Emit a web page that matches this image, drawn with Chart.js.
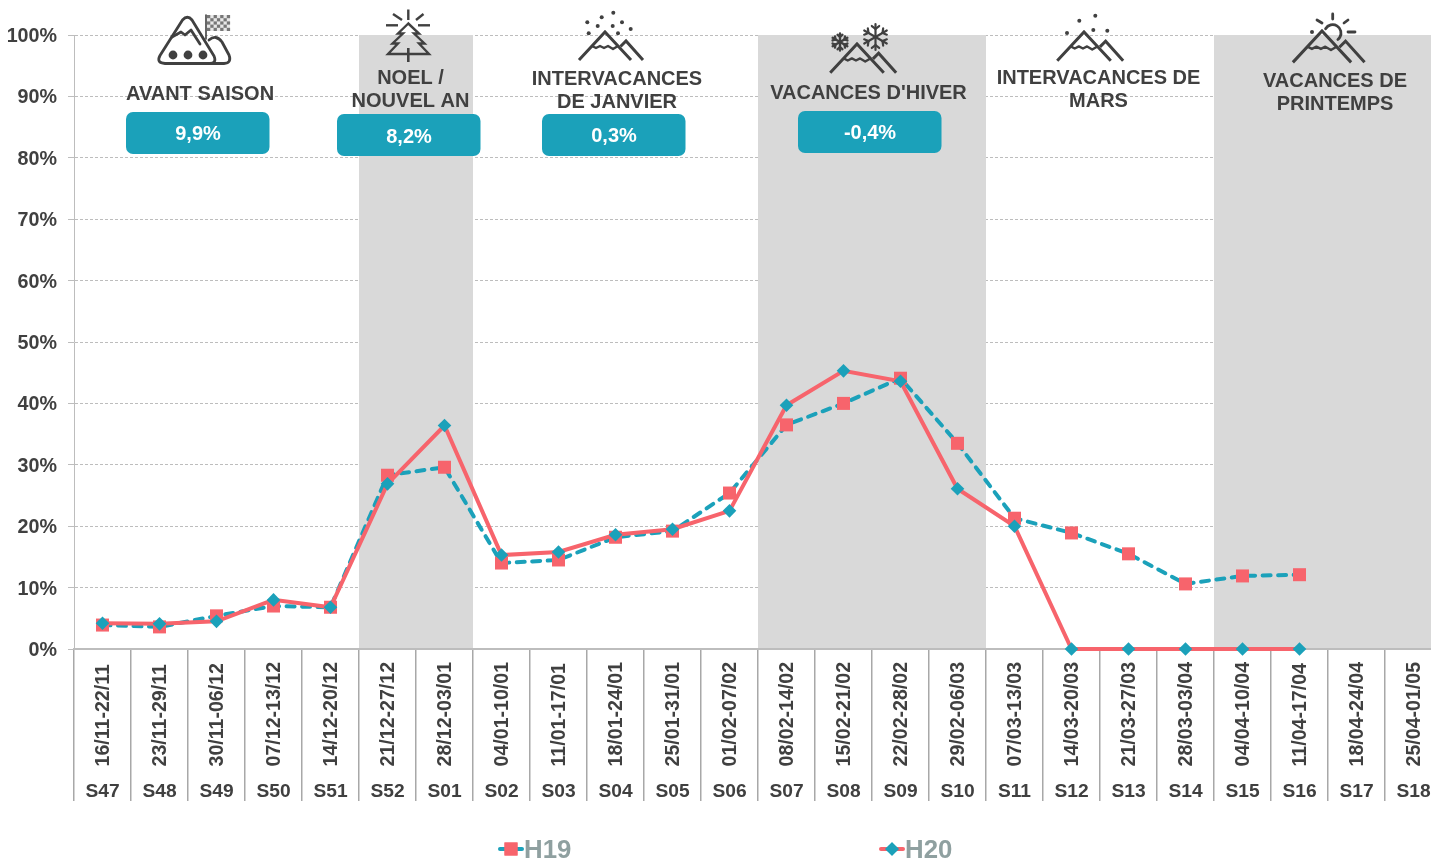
<!DOCTYPE html>
<html lang="fr">
<head>
<meta charset="utf-8">
<title>H19 / H20</title>
<script src="https://cdn.jsdelivr.net/npm/chart.js@4"></script>
<style>
html,body{margin:0;padding:0;background:#fff;overflow:hidden;width:1431px;height:861px}
#wrap{width:1442px;height:861px;position:relative}
canvas{display:block}
</style>
</head>
<body>
<div id="wrap"><canvas id="c" width="1442" height="861"></canvas></div>
<script>
const dateLabels = ["16/11-22/11","23/11-29/11","30/11-06/12","07/12-13/12","14/12-20/12","21/12-27/12","28/12-03/01","04/01-10/01","11/01-17/01","18/01-24/01","25/01-31/01","01/02-07/02","08/02-14/02","15/02-21/02","22/02-28/02","29/02-06/03","07/03-13/03","14/03-20/03","21/03-27/03","28/03-03/04","04/04-10/04","11/04-17/04","18/04-24/04","25/04-01/05"];
const weekLabels = ["S47","S48","S49","S50","S51","S52","S01","S02","S03","S04","S05","S06","S07","S08","S09","S10","S11","S12","S13","S14","S15","S16","S17","S18"];
const h19Values = [3.9,3.6,5.4,7.0,6.8,28.3,29.6,14.0,14.5,18.2,19.2,25.4,36.5,40.0,44.1,33.5,21.3,18.9,15.5,10.6,11.9,12.1,null,null];
const h20Values = [4.2,4.1,4.5,8.0,6.8,26.9,36.4,15.3,15.8,18.6,19.5,22.5,39.7,45.3,43.6,26.1,20.0,0,0,0,0,0,null,null];
const holidayBands = [["S52","S01"],["S07","S10"],["S15","S18"]];
const periodTitles = [["AVANT SAISON"],["NOEL /","NOUVEL AN"],["INTERVACANCES","DE JANVIER"],["VACANCES D'HIVER"],["INTERVACANCES DE","MARS"],["VACANCES DE","PRINTEMPS"]];
const periodBadges = ["9,9%","8,2%","0,3%","-0,4%",null,null];

const RED = "#F7646C", TEAL = "#1BA1BA", INK = "#404040", GRID = "#bdbdbd", FONT = '"Liberation Sans", Arial, sans-serif';

const titleLayout = [
  {x:200,  ys:[94]},
  {x:410.5,ys:[78,101]},
  {x:617,  ys:[79,102]},
  {x:868.5,ys:[93]},
  {x:1098.5,ys:[78,101]},
  {x:1335, ys:[81,104]}
];
const badgeLayout = [
  {x:126,y:112,tx:198,ty:134.5},
  {x:337,y:114,tx:409,ty:137},
  {x:542,y:114,tx:614,ty:136.5},
  {x:798,y:111,tx:870,ty:133.5}
];

function line(ctx, pts){ ctx.beginPath(); pts.forEach((p,i)=> i? ctx.lineTo(p[0],p[1]) : ctx.moveTo(p[0],p[1])); ctx.stroke(); }
function dots(ctx, pts, r){ pts.forEach(p=>{ctx.beginPath();ctx.arc(p[0],p[1],r,0,Math.PI*2);ctx.fill();}); }
function mountain(ctx, ax, ay, s){
  const P = (x,y)=>[ax+x*s, ay+y*s];
  ctx.lineWidth = 3; ctx.lineJoin='miter'; ctx.lineCap='butt';
  line(ctx,[P(-26,28),P(0,0),P(26,28)]);
  line(ctx,[P(15.5,14.5),P(21,9),P(38,28)]);
  ctx.lineWidth = 2.4; ctx.lineJoin='round';
  line(ctx,[P(-13,14),P(-9,16),P(-5,14),P(-1,16),P(3,14),P(8,17),P(13,14)]);
}
function flake(ctx, cx, cy, r, lw){
  ctx.lineWidth = lw; ctx.lineCap='round';
  for(let k=0;k<6;k++){
    const a = -Math.PI/2 + k*Math.PI/3, ca=Math.cos(a), sa=Math.sin(a);
    line(ctx,[[cx,cy],[cx+r*ca,cy+r*sa]]);
    const bx=cx+r*.62*ca, by=cy+r*.62*sa;
    [-0.75,0.75].forEach(d=>{ line(ctx,[[bx,by],[bx+r*.36*Math.cos(a+d*1.2),by+r*.36*Math.sin(a+d*1.2)]]); });
  }
}
function drawIcons(ctx){
  ctx.save();
  ctx.strokeStyle = INK; ctx.fillStyle = INK;
  // avant saison
  ctx.lineWidth = 2.8; ctx.lineJoin='round'; ctx.lineCap='round';
  ctx.beginPath();
  ctx.moveTo(165,63.5); ctx.quadraticCurveTo(156,63,160,55.5);
  ctx.lineTo(182.5,20); ctx.quadraticCurveTo(187.5,14.5,192,20);
  ctx.lineTo(214,56); ctx.quadraticCurveTo(217,63,210,63.5); ctx.closePath(); ctx.stroke();
  line(ctx,[[172,37],[181,32],[185,35],[191,30],[200,44]]);
  ctx.beginPath(); ctx.moveTo(209,40); ctx.quadraticCurveTo(216,34,222,42);
  ctx.lineTo(229,55); ctx.quadraticCurveTo(232,63,224,63.5); ctx.lineTo(210,63.5); ctx.stroke();
  dots(ctx,[[173,55],[188,55],[203,55]],4.4);
  ctx.lineWidth=1.6; line(ctx,[[206,15],[206,39]]);
  ctx.fillStyle='#e8e8e8'; ctx.fillRect(207,15,23,16);
  ctx.fillStyle='#777';
  for(let r=0;r<5;r++) for(let c=0;c<7;c++) if((r+c)%2===0) ctx.fillRect(207+c*3.3,15+r*3.2,3.3,3.2);
  ctx.fillStyle=INK;
  // sapin
  ctx.lineWidth=2.4; ctx.lineCap='butt'; ctx.lineJoin='miter';
  const tx=408.3;
  line(ctx,[[tx,9.5],[tx,20]]);
  line(ctx,[[393,14],[402,20]]); line(ctx,[[416,20],[423.5,14]]);
  line(ctx,[[386,25.3],[398,25.3]]); line(ctx,[[418,25.3],[430,25.3]]);
  ctx.beginPath();
  [[tx,23.5],[398,33.5],[403,33.5],[392.5,43.5],[398,43.5],[388,54],[429,54],[419,43.5],[424.5,43.5],[414,33.5],[419,33.5]].forEach((p,i)=> i?ctx.lineTo(p[0],p[1]):ctx.moveTo(p[0],p[1]));
  ctx.closePath(); ctx.stroke();
  ctx.lineWidth=2.6; line(ctx,[[tx,48],[tx,62]]);
  // janvier
  mountain(ctx,605,32,1);
  dots(ctx,[[613.3,12.7],[601.7,17.3],[587.3,22.3],[622,22.3],[597.7,26],[612.7,26],[630.7,29],[588.7,33.3],[618,33.3]],2);
  // hiver
  mountain(ctx,857,44,1.03);
  flake(ctx,875.5,37,13,2.2);
  flake(ctx,840,42,8.5,2.4);
  // mars
  mountain(ctx,1084,32,1.03);
  dots(ctx,[[1095.3,15.7],[1079.3,20.7],[1093.3,30],[1107.3,30.7],[1067,33]],2);
  // printemps
  mountain(ctx,1322,31,1.12);
  ctx.lineWidth=2.8; ctx.lineCap='round';
  ctx.beginPath(); ctx.arc(1332.7,33,8.3,-2.6,0.9); ctx.stroke();
  line(ctx,[[1332.7,14],[1332.7,19]]);
  line(ctx,[[1317,20],[1322,23]]);
  line(ctx,[[1344,23],[1348,20]]);
  line(ctx,[[1348,32],[1355,32]]);
  dots(ctx,[[1312,32]],2);
  ctx.restore();
}

const overlayPlugin = {
  id:'overlay',
  beforeDraw(chart){
    const area = chart.chartArea;
    const xs = chart.scales.x, xw = chart.scales.xWeeks, ys = chart.scales.y;
    xs.getLabelItems(area).forEach((it,i)=>{
      it.options.textAlign='left'; it.options.textBaseline='middle';
      it.textOffset=0; it.options.translation[1]=766.5;
      it.options.translation[0]=xs.getPixelForValue(i)+1;
    });
    xw.getLabelItems(area).forEach(it=>{
      it.options.textBaseline='middle'; it.textOffset=0; it.options.translation[1]=791.5;
    });
    ys.getLabelItems(area).forEach(it=>{
      if(!it._moved){ it.options.translation[1]+=1.5; it._moved=true; }
    });
  },
  beforeDatasetsDraw(chart){
    const {ctx, chartArea:a, scales:{x,y}} = chart;
    const half = (x.getPixelForValue(1)-x.getPixelForValue(0))/2;
    ctx.save();
    ctx.fillStyle='#d9d9d9';
    holidayBands.forEach(b=>{
      const l=x.getPixelForValue(weekLabels.indexOf(b[0]))-half;
      const r=x.getPixelForValue(weekLabels.indexOf(b[1]))+half;
      ctx.fillRect(l,a.top,r-l,y.getPixelForValue(0)-1-a.top);
    });
    // titles
    ctx.fillStyle=INK; ctx.textAlign='center'; ctx.textBaseline='middle';
    ctx.font='bold 20px '+FONT;
    periodTitles.forEach((lines,i)=>lines.forEach((t,j)=>ctx.fillText(t,titleLayout[i].x,titleLayout[i].ys[j])));
    // badges
    periodBadges.forEach((t,i)=>{
      if(!t) return;
      const b=badgeLayout[i];
      ctx.fillStyle=TEAL; ctx.beginPath(); ctx.roundRect(b.x,b.y,143.5,42,7); ctx.fill();
      ctx.fillStyle='#fff'; ctx.font='bold 20px '+FONT; ctx.fillText(t,b.tx,b.ty);
    });
    ctx.restore();
    drawIcons(ctx);
  },
  afterDraw(chart){
    const ctx=chart.ctx;
    const items=[{ds:chart.data.datasets[0],x:499},{ds:chart.data.datasets[1],x:880}];
    ctx.save();
    items.forEach(({ds,x})=>{
      const cy=849;
      ctx.strokeStyle=ds.borderColor; ctx.lineWidth=4; ctx.lineCap='round';
      ctx.beginPath(); ctx.moveTo(x+1,cy); ctx.lineTo(x+23,cy); ctx.stroke();
      ctx.fillStyle=ds.pointBackgroundColor;
      ctx.beginPath();
      Chart.helpers.drawPointLegend(ctx,{pointStyle:ds.pointStyle,radius:ds.pointRadius,rotation:0,borderWidth:0},x+12,cy);
      ctx.fill();
      ctx.fillStyle='#8FA0A0'; ctx.font='bold 25.8px '+FONT;
      ctx.textAlign='left'; ctx.textBaseline='middle';
      ctx.fillText(ds.label,x+25,cy+1.5);
    });
    ctx.restore();
  }
};

new Chart(document.getElementById('c'),{
  type:'line',
  data:{
    labels:dateLabels,
    datasets:[
      {label:'H19',data:h19Values,order:1,clip:false,borderColor:TEAL,borderWidth:4,borderDash:[8,7.5],borderCapStyle:'round',
       pointStyle:'rect',pointRadius:9.2,pointBackgroundColor:RED,pointBorderColor:RED,pointBorderWidth:0,tension:0,spanGaps:false},
      {label:'H20',data:h20Values,order:0,clip:false,borderColor:RED,borderWidth:4,borderCapStyle:'round',
       pointStyle:'rectRot',pointRadius:6.8,pointBackgroundColor:TEAL,pointBorderColor:TEAL,pointBorderWidth:0,tension:0,spanGaps:false}
    ]
  },
  options:{
    responsive:false,animation:false,
    layout:{autoPadding:false,padding:{top:35,left:0,right:0,bottom:60}},
    plugins:{legend:{display:false},tooltip:{enabled:false}},
    scales:{
      x:{
        type:'category',offset:true,weight:1,
        grid:{offset:true,drawOnChartArea:false,color:'#a8a8a8',lineWidth:1.5,tickLength:118,tickColor:'#a8a8a8',tickWidth:1.5},
        border:{display:true,color:'#bdbdbd',width:2},
        ticks:{autoSkip:false,minRotation:90,maxRotation:90,padding:0,color:INK,font:{family:FONT,size:19.6,weight:'bold'}},
        afterFit(s){s.height=118;s.paddingLeft=0;s.paddingRight=0;}
      },
      xWeeks:{
        type:'category',axis:'x',position:'bottom',labels:weekLabels,offset:true,weight:2,
        grid:{offset:true,drawOnChartArea:false,color:'#a8a8a8',lineWidth:1.5,tickLength:34,tickColor:'#a8a8a8',tickWidth:1.5},
        border:{display:false},
        ticks:{autoSkip:false,maxRotation:0,minRotation:0,padding:0,color:INK,font:{family:FONT,size:19.2,weight:'bold'}},
        afterFit(s){s.height=34;s.paddingLeft=0;s.paddingRight=0;}
      },
      y:{
        min:0,max:100,
        grid:{color:GRID,lineWidth:1,tickLength:6,tickColor:GRID},
        border:{display:true,color:GRID,width:1,dash:[3,2]},
        ticks:{stepSize:10,padding:11,color:INK,font:{family:FONT,size:19.7,weight:'bold'},callback:v=>v+'%'},
        afterFit(s){s.width=74;}
      }
    }
  },
  plugins:[overlayPlugin]
});
</script>
</body>
</html>
